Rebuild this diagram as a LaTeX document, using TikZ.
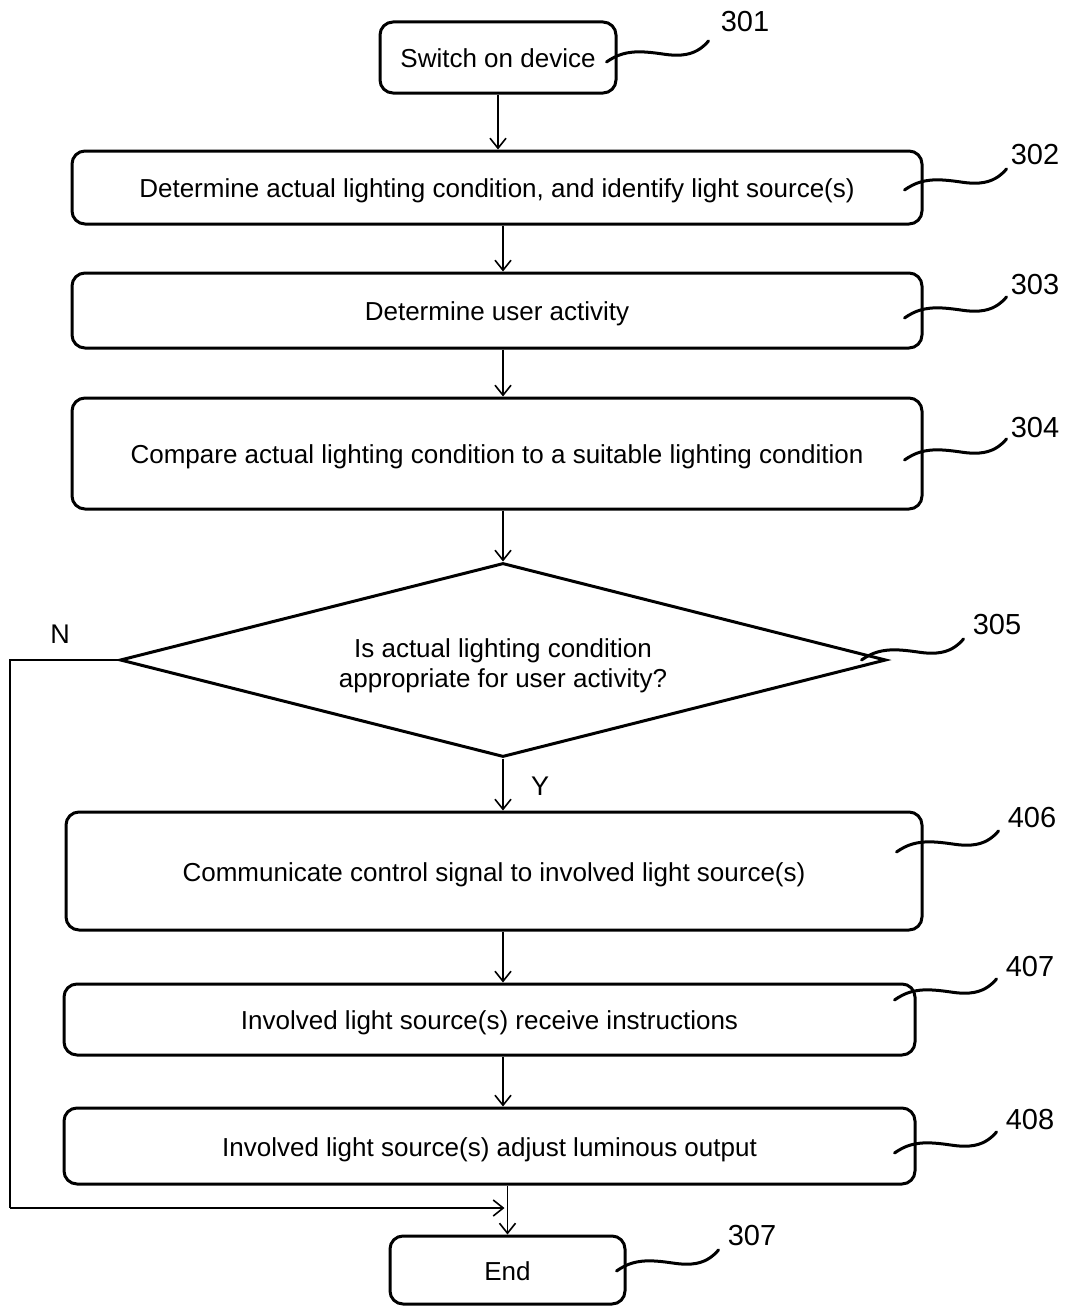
\documentclass[tikz,border=0pt]{standalone}
\usepackage{fontspec}
\setmainfont{Liberation Sans}
\usetikzlibrary{shapes.geometric,arrows.meta,calc}
\begin{document}
\begin{tikzpicture}[x=1pt,y=-1pt,
  font=\fontsize{26}{30}\selectfont,
  stepbox/.style={draw, line width=3pt, rounded corners=13pt, inner sep=0pt, align=center,
                  text height=20pt, text depth=0pt},
  decision/.style={draw, diamond, aspect=3.95, line width=3pt, inner sep=0pt, align=center},
  arr/.style={line width=1.6pt, -{Straight Barb[length=10pt,width=16pt,line width=1.6pt]}},
  flow/.style={line width=1.6pt},
  num/.style={font=\fontsize{29}{34}\selectfont, inner sep=0pt},
  yn/.style={font=\fontsize{27}{32}\selectfont, inner sep=0pt},
  leader/.pic={\draw[line width=3pt, line cap=round]
     (0,0) .. controls (10,-7) and (20,-11) .. (38,-10)
           .. controls (55,-9) and (62,-6) .. (75,-7)
           .. controls (88,-8) and (96,-14) .. (102,-21);}
]
\useasboundingbox (0,0) rectangle (1067,1306);

% process steps
\node[stepbox, minimum width=236, minimum height=71] (n301) at (498,57.5) {Switch on device};
\node[stepbox, minimum width=850, minimum height=73] (n302) at (497,187.5) {Determine actual lighting condition, and identify light source(s)};
\node[stepbox, minimum width=850, minimum height=75] (n303) at (497,310.5) {Determine user activity};
\node[stepbox, minimum width=850, minimum height=111] (n304) at (497,453.5) {Compare actual lighting condition to a suitable lighting condition};
\node[decision, minimum width=766, minimum height=194] (d305) at (503,660) {\rule{0pt}{30pt}Is actual lighting condition\\appropriate for user activity?};
\node[stepbox, minimum width=856, minimum height=118] (n406) at (494,871) {Communicate control signal to involved light source(s)};
\node[stepbox, minimum width=851, minimum height=71] (n407) at (489.5,1019.5) {Involved light source(s) receive instructions};
\node[stepbox, minimum width=851, minimum height=76] (n408) at (489.5,1146) {Involved light source(s) adjust luminous output};
\node[stepbox, minimum width=235, minimum height=68] (n307) at (507.5,1270) {End};

% branch labels
\node[yn] (lN) at (60,634) {N};
\node[yn] (lY) at (540,786) {Y};

% flow arrows
\draw[arr] (n301.south) -- (n301.south |- n302.north);
\draw[arr] (d305.north |- n302.south) -- (d305.north |- n303.north);
\draw[arr] (d305.north |- n303.south) -- (d305.north |- n304.north);
\draw[arr] (d305.north |- n304.south) -- (d305.north);
\draw[arr] (d305.south) -- (d305.south |- n406.north);
\draw[arr] (d305.south |- n406.south) -- (d305.south |- n407.north);
\draw[arr] (d305.south |- n407.south) -- (d305.south |- n408.north);
\draw[arr] (n307.north |- n408.south) -- (n307.north);

% "no" branch straight to the end
\coordinate (nbend) at (10,1208);
\draw[flow] (d305.west) -| (nbend);
\draw[arr] (nbend) -- ($(n307.north |- nbend)+(-3,0)$);

% reference numerals with wavy leaders
\pic at ($(n301.east)+(-11,4.5)$) {leader};
\node[num] (l301) at (745,22) {301};
\pic at ($(n302.east)+(-19,2.5)$) {leader};
\node[num] (l302) at (1035,155) {302};
\pic at ($(n303.east)+(-19,7.5)$) {leader};
\node[num] (l303) at (1035,285) {303};
\pic at ($(n304.east)+(-19,6.5)$) {leader};
\node[num] (l304) at (1035,428) {304};
\pic at ($(d305.east)+(-26,0)$) {leader};
\node[num] (l305) at (997,625) {305};
\pic at ($(n406.east)+(-27,-19)$) {leader};
\node[num] (l406) at (1032,818) {406};
\pic at ($(n407.east)+(-22,-19.5)$) {leader};
\node[num] (l407) at (1030,967) {407};
\pic at ($(n408.east)+(-22,7)$) {leader};
\node[num] (l408) at (1030,1120) {408};
\pic at ($(n307.east)+(-10,1)$) {leader};
\node[num] (l307) at (752,1236) {307};
\end{tikzpicture}
\end{document}
